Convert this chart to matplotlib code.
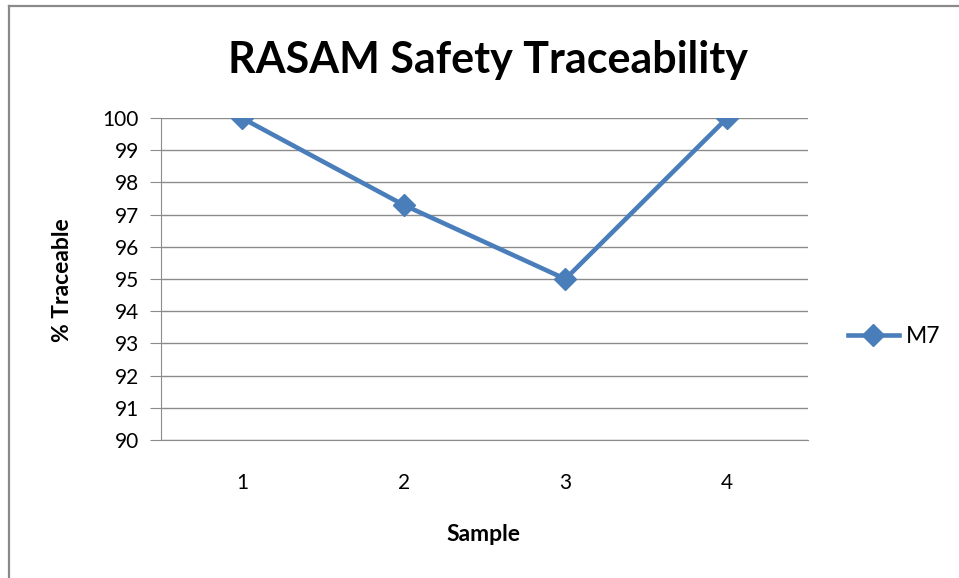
import matplotlib.pyplot as plt
from matplotlib.lines import Line2D

samples = [1, 2, 3, 4]
m7 = [100, 97.3, 95, 100]
y_ticks = list(range(90, 101))

blue = '#4a7ebb'
grid_gray = '#8c8c8c'

plt.rcParams['font.family'] = ['Lato', 'DejaVu Sans']

fig = plt.figure(figsize=(9.59, 5.78), dpi=100)

# outer chart frame (top and left edges visible)
fig.add_artist(Line2D([8.5 / 959, 1.0], [1 - 6 / 578, 1 - 6 / 578], color='#8a8a8a', lw=1.6,
                      transform=fig.transFigure))
fig.add_artist(Line2D([8.5 / 959, 8.5 / 959], [0, 1 - 6 / 578], color='#8a8a8a', lw=1.6,
                      transform=fig.transFigure))

ax = fig.add_axes([161 / 959, 1 - 440 / 578, 647 / 959, 322 / 578])
ax.plot(samples, m7, color=blue, lw=3.3, marker='D', markersize=11, label='M7', zorder=3)

ax.set_xlim(0.5, 4.5)
ax.set_ylim(90, 100)
ax.set_yticks(y_ticks)
ax.set_xticks(samples)
ax.yaxis.grid(True, color=grid_gray, lw=1)
ax.set_axisbelow(True)
for s in ['top', 'right']:
    ax.spines[s].set_visible(False)
ax.spines['left'].set_color(grid_gray)
ax.spines['bottom'].set_color(grid_gray)
ax.tick_params(axis='y', length=8, color=grid_gray, labelsize=15, pad=8)
ax.tick_params(axis='x', length=0, labelsize=15, pad=24)

ax.set_ylabel('% Traceable', fontsize=16.5, fontweight='bold', va='center')
ax.yaxis.set_label_coords(-0.153, 0.497)
ax.set_xlabel('Sample', fontsize=16.5, fontweight='bold', va='center')
ax.xaxis.set_label_coords(0.499, -0.295)

fig.text(488 / 959, 1 - 60 / 578, 'RASAM Safety Traceability', ha='center', va='center',
         fontsize=31, fontweight='bold')

ax.legend(loc='center left', bbox_to_anchor=(1.062, 0.32), frameon=False, fontsize=16.5,
          borderpad=0, borderaxespad=0, handlelength=2.2, handletextpad=0.3)

fig.savefig('out.png', dpi=100)
